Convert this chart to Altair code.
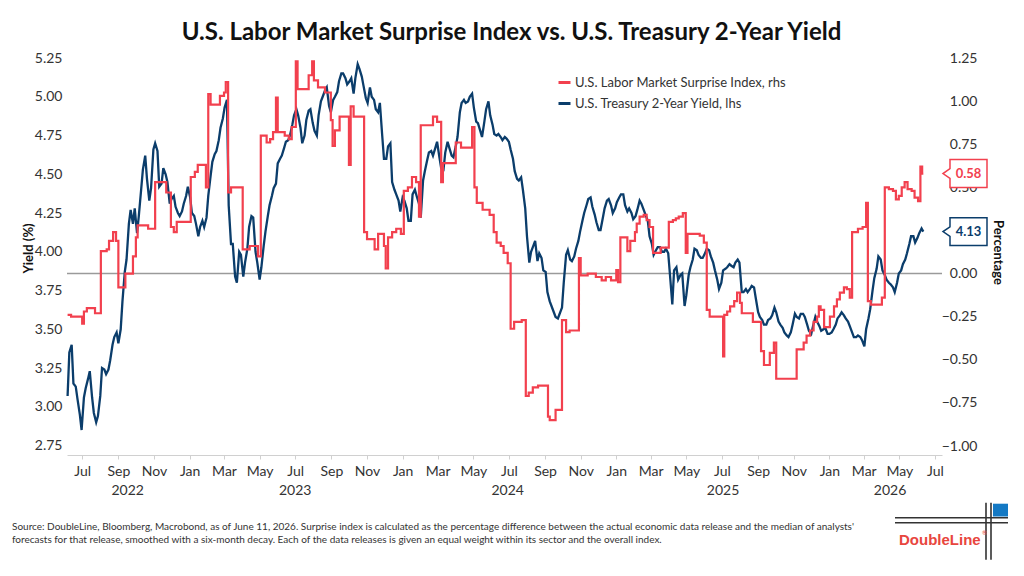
import altair as alt
import pandas as pd

# ---------------- data ----------------
# 2-year yield, two readings per week: Mondays (from 2022-06-06) and Thursdays (3 days later)
yield_start = "2022-06-06"
yield_monday = [
    3.07, 3.40, 3.13, 2.95, 3.06, 3.18, 3.06, 2.90, 3.07, 3.24,
    3.24, 3.40, 3.48, 3.50, 3.87, 4.18, 4.18, 4.12, 4.40, 4.62,
    4.33, 4.66, 4.65, 4.44, 4.50, 4.31, 4.36, 4.25, 4.26, 4.36,
    4.35, 4.23, 4.10, 4.20, 4.22, 4.49, 4.63, 4.72, 4.86, 4.98,
    4.05, 3.84, 4.00, 3.84, 4.02, 4.23, 4.00, 3.82, 4.04, 4.23,
    4.36, 4.44, 4.60, 4.67, 4.72, 4.82, 4.92, 4.80, 4.75, 4.91,
    4.83, 4.75, 4.97, 5.04, 4.94, 4.98, 5.03, 5.15, 5.12, 5.10,
    5.02, 5.21, 5.13, 4.99, 5.06, 4.98, 4.90, 4.75, 4.60, 4.70,
    4.40, 4.33, 4.35, 4.28, 4.20, 4.40, 4.31, 4.46, 4.59, 4.65,
    4.67, 4.61, 4.53, 4.71, 4.62, 4.68, 4.90, 4.98, 4.97, 5.02,
    4.84, 4.78, 4.84, 4.97, 4.82, 4.75, 4.74, 4.74, 4.71, 4.60,
    4.47, 4.48, 4.28, 3.93, 4.04, 3.94, 3.96, 3.87, 3.68, 3.61,
    3.57, 3.64, 3.98, 3.95, 3.97, 4.07, 4.20, 4.30, 4.35, 4.24,
    4.14, 4.22, 4.33, 4.30, 4.28, 4.35, 4.37, 4.26, 4.25, 4.23,
    4.33, 4.27, 4.20, 4.05, 4.01, 4.03, 4.00, 3.99, 3.66, 3.90,
    3.85, 3.65, 3.85, 3.95, 4.01, 3.96, 3.99, 4.01, 3.93, 3.82,
    3.80, 3.89, 3.92, 3.90, 3.95, 3.74, 3.76, 3.76, 3.77, 3.61,
    3.56, 3.53, 3.57, 3.64, 3.55, 3.51, 3.46, 3.48, 3.60, 3.57,
    3.60, 3.53, 3.47, 3.58, 3.52, 3.50, 3.47, 3.48, 3.53, 3.59,
    3.59, 3.55, 3.48, 3.45, 3.45, 3.39, 3.57, 3.75, 3.89, 3.95,
    3.85, 3.80, 3.77, 3.80, 3.88, 3.95, 4.05, 4.10, 4.09, 4.15,
]
yield_thursday = [
    3.35, 3.15, 3.05, 2.85, 3.12, 3.23, 2.96, 2.94, 3.25, 3.21,
    3.30, 3.45, 3.41, 3.68, 3.95, 4.27, 4.28, 4.23, 4.53, 4.47,
    4.41, 4.70, 4.42, 4.54, 4.45, 4.34, 4.29, 4.23, 4.31, 4.42,
    4.25, 4.18, 4.16, 4.16, 4.36, 4.58, 4.65, 4.80, 4.93, 4.30,
    4.05, 3.80, 3.98, 3.93, 4.16, 4.22, 3.93, 3.90, 4.13, 4.30,
    4.41, 4.57, 4.62, 4.71, 4.75, 4.88, 4.88, 4.70, 4.85, 4.92,
    4.78, 4.88, 5.00, 5.06, 4.90, 5.00, 5.10, 5.15, 5.08, 5.12,
    5.12, 5.18, 5.07, 4.96, 5.00, 4.92, 4.96, 4.60, 4.68, 4.45,
    4.37, 4.26, 4.33, 4.20, 4.37, 4.36, 4.22, 4.52, 4.64, 4.62,
    4.71, 4.54, 4.64, 4.67, 4.61, 4.74, 4.96, 4.96, 5.00, 4.93,
    4.83, 4.74, 4.92, 4.88, 4.76, 4.76, 4.72, 4.73, 4.66, 4.52,
    4.46, 4.40, 4.10, 4.00, 4.07, 3.99, 3.88, 3.74, 3.65, 3.58,
    3.60, 3.80, 4.01, 3.94, 4.02, 4.13, 4.25, 4.34, 4.29, 4.19,
    4.14, 4.28, 4.34, 4.25, 4.32, 4.37, 4.30, 4.28, 4.21, 4.27,
    4.31, 4.24, 4.10, 3.98, 4.03, 4.00, 4.02, 3.85, 3.88, 3.82,
    3.86, 3.72, 3.90, 4.02, 3.98, 3.96, 4.02, 3.97, 3.88, 3.76,
    3.88, 3.90, 3.91, 3.93, 3.93, 3.74, 3.74, 3.78, 3.70, 3.58,
    3.53, 3.56, 3.59, 3.61, 3.53, 3.48, 3.45, 3.53, 3.58, 3.60,
    3.58, 3.49, 3.52, 3.55, 3.49, 3.51, 3.47, 3.50, 3.57, 3.61,
    3.57, 3.52, 3.45, 3.46, 3.43, 3.50, 3.63, 3.83, 3.97, 3.88,
    3.82, 3.79, 3.74, 3.86, 3.92, 3.99, 4.10, 4.06, 4.12, 4.13,
]

surprise_dates = [
    "2022-06-06", "2022-06-12", "2022-07-01", "2022-07-04", "2022-07-09", "2022-07-23",
    "2022-08-02", "2022-08-12", "2022-08-16", "2022-08-23", "2022-08-28", "2022-09-01",
    "2022-09-13", "2022-09-26", "2022-10-01", "2022-10-04", "2022-10-22", "2022-11-03",
    "2022-11-22", "2022-11-30", "2022-12-05", "2022-12-10", "2023-01-03", "2023-01-10",
    "2023-01-15", "2023-01-29", "2023-02-02", "2023-02-06", "2023-02-22", "2023-03-01",
    "2023-03-04", "2023-03-08", "2023-03-13", "2023-04-02", "2023-04-14", "2023-04-28",
    "2023-05-03", "2023-05-13", "2023-05-19", "2023-05-24", "2023-05-29", "2023-06-01",
    "2023-06-13", "2023-06-20", "2023-06-25", "2023-07-02", "2023-07-05", "2023-07-24",
    "2023-07-30", "2023-08-02", "2023-08-09", "2023-08-21", "2023-08-31", "2023-09-03",
    "2023-09-07", "2023-09-15", "2023-10-01", "2023-10-04", "2023-10-09", "2023-10-27",
    "2023-11-01", "2023-11-14", "2023-11-20", "2023-11-30", "2023-12-03", "2023-12-07",
    "2023-12-14", "2023-12-21", "2023-12-29", "2024-01-03", "2024-01-10", "2024-01-17",
    "2024-01-24", "2024-01-29", "2024-02-01", "2024-02-22", "2024-02-29", "2024-03-07",
    "2024-03-10", "2024-04-01", "2024-04-10", "2024-04-29", "2024-05-03", "2024-05-07",
    "2024-05-17", "2024-05-29", "2024-06-05", "2024-06-10", "2024-06-17", "2024-06-22",
    "2024-06-29", "2024-07-04", "2024-07-10", "2024-07-23", "2024-07-30", "2024-08-04",
    "2024-08-11", "2024-08-20", "2024-09-06", "2024-09-09", "2024-09-19", "2024-09-30",
    "2024-10-07", "2024-10-13", "2024-10-29", "2024-11-01", "2024-11-13", "2024-11-27",
    "2024-12-07", "2024-12-14", "2024-12-23", "2025-01-01", "2025-01-04", "2025-01-08",
    "2025-01-20", "2025-01-25", "2025-02-02", "2025-02-05", "2025-02-10", "2025-02-17",
    "2025-02-22", "2025-02-27", "2025-03-05", "2025-03-18", "2025-04-01", "2025-04-08",
    "2025-04-13", "2025-04-18", "2025-04-25", "2025-04-30", "2025-05-03", "2025-05-24",
    "2025-05-31", "2025-06-05", "2025-06-10", "2025-07-03", "2025-07-05", "2025-07-10",
    "2025-07-15", "2025-07-22", "2025-07-27", "2025-08-01", "2025-08-04", "2025-08-23",
    "2025-09-06", "2025-09-11", "2025-09-21", "2025-09-28", "2025-10-02", "2025-11-06",
    "2025-11-18", "2025-11-23", "2025-11-29", "2025-12-05", "2025-12-11", "2025-12-14",
    "2025-12-17", "2025-12-23", "2026-01-02", "2026-01-09", "2026-01-14", "2026-01-19",
    "2026-01-26", "2026-01-31", "2026-02-05", "2026-02-09", "2026-02-19", "2026-02-27",
    "2026-03-05", "2026-03-08", "2026-03-13", "2026-04-01", "2026-04-06", "2026-04-13",
    "2026-04-20", "2026-04-25", "2026-04-30", "2026-05-05", "2026-05-10", "2026-05-15",
    "2026-05-22", "2026-05-27", "2026-06-02", "2026-06-06", "2026-06-09", "2026-06-11",
]
surprise_values = [
    -0.24, -0.25, -0.29, -0.22, -0.20, -0.23,
    0.13, 0.14, 0.19, 0.24, 0.19, -0.08,
    0.00, 0.10, 0.21, 0.28, 0.26, 0.53,
    0.47, 0.27, 0.24, 0.30, 0.56, 0.59,
    0.63, 0.50, 1.04, 0.98, 1.03, 1.05,
    1.11, 0.47, 0.50, 0.14, 0.16, 0.10,
    0.80, 0.76, 0.78, 0.82, 1.02, 0.82,
    0.80, 0.78, 0.85, 1.23, 1.07, 1.15,
    1.23, 1.12, 1.08, 1.05, 0.89, 0.74,
    0.83, 0.91, 0.63, 0.97, 0.91, 0.24,
    0.20, 0.14, 0.23, 0.16, 0.03, 0.21,
    0.24, 0.26, 0.23, 0.48, 0.50, 0.56,
    0.53, 0.33, 0.86, 0.91, 0.88, 0.53,
    0.64, 0.76, 0.73, 0.85, 0.50, 0.41,
    0.37, 0.34, 0.24, 0.18, 0.16, 0.12,
    0.06, -0.32, -0.28, -0.27, -0.71, -0.69,
    -0.66, -0.65, -0.83, -0.85, -0.79, -0.27,
    -0.34, -0.33, 0.09, -0.01, 0.00, -0.02,
    -0.04, -0.02, -0.04, 0.02, -0.05, 0.21,
    0.13, 0.19, 0.24, 0.29, 0.33, 0.34,
    0.31, 0.27, 0.12, 0.15, 0.30, 0.31,
    0.32, 0.33, 0.35, 0.12, 0.23, 0.22,
    0.18, -0.21, -0.25, -0.48, -0.24, -0.22,
    -0.19, -0.16, -0.11, -0.17, -0.23, -0.28,
    -0.45, -0.53, -0.46, -0.40, -0.61, -0.44,
    -0.40, -0.36, -0.33, -0.28, -0.25, -0.19,
    -0.21, -0.31, -0.25, -0.19, -0.15, -0.11,
    -0.08, -0.09, -0.14, 0.24, 0.26, 0.27,
    0.41, -0.16, -0.18, -0.14, 0.50, 0.49,
    0.48, 0.43, 0.45, 0.50, 0.53, 0.49,
    0.48, 0.44, 0.42, 0.62, 0.58, 0.58,
]

series_names = ["U.S. Labor Market Surprise Index, rhs", "U.S. Treasury 2-Year Yield, lhs"]
series_colors = ["#F2404E", "#0B3D6B"]

left_ticks = [2.75, 3.00, 3.25, 3.50, 3.75, 4.00, 4.25, 4.50, 4.75, 5.00, 5.25]
right_ticks = [-1.00, -0.75, -0.50, -0.25, 0.00, 0.25, 0.50, 0.75, 1.00, 1.25]
month_ticks = [
    "2022-07", "2022-09", "2022-11", "2023-01", "2023-03", "2023-05", "2023-07",
    "2023-09", "2023-11", "2024-01", "2024-03", "2024-05", "2024-07", "2024-09",
    "2024-11", "2025-01", "2025-03", "2025-05", "2025-07", "2025-09", "2025-11",
    "2026-01", "2026-03", "2026-05", "2026-07",
]
year_names = ["2022", "2023", "2024", "2025", "2026"]
year_dates = ["2022-09-17", "2023-07-01", "2024-06-29", "2025-07-03", "2026-04-15"]

title_text = "U.S. Labor Market Surprise Index vs. U.S. Treasury 2-Year Yield"
footnote_lines = [
    "Source: DoubleLine, Bloomberg, Macrobond, as of June 11, 2026. Surprise index is calculated as the percentage difference between the actual economic data release and the median of analysts'",
    "forecasts for that release, smoothed with a six-month decay. Each of the data releases is given an equal weight within its sector and the overall index.",
]

# ---------------- tables ----------------
mondays = pd.date_range(yield_start, periods=len(yield_monday), freq="7D")
thursdays = mondays + pd.Timedelta(days=3)
df_yield = pd.concat([
    pd.DataFrame({"date": mondays, "value": yield_monday}),
    pd.DataFrame({"date": thursdays, "value": yield_thursday}),
]).sort_values("date")
df_yield["date"] = df_yield["date"].dt.strftime("%Y-%m-%d")
df_yield["series"] = series_names[1]
df_surp = pd.DataFrame({"date": surprise_dates, "value": surprise_values, "series": series_names[0]})
df_yield_last = df_yield.tail(1)
df_surp_last = df_surp.tail(1)
df_zero = pd.DataFrame({"v": [0.0]})
df_years = pd.DataFrame({"date": year_dates, "label": year_names})
one = pd.DataFrame({"a": [0]})

FONT = "Lato"
W, H = 875, 397

x_scale = alt.Scale(type="utc", domain=[alt.DateTime(year=2022, month=6, date=5, utc=True),
                                        alt.DateTime(year=2026, month=7, date=13, utc=True)])
x_axis = alt.Axis(
    values=[alt.DateTime(year=int(m[:4]), month=int(m[5:7]), date=1, utc=True) for m in month_ticks],
    labelExpr="utcFormat(datum.value, '%b')", labelFont=FONT, labelFontSize=14, labelColor="#333333",
    tickSize=4, tickColor="#d0d0d0", domainColor="#d0d0d0", labelPadding=5, grid=False,
    labelFlush=False, labelOverlap=False, title=None)
X = alt.X("date:T", scale=x_scale, axis=x_axis)

left_scale = alt.Scale(domain=[2.689, 5.25], nice=False, zero=False)
right_scale = alt.Scale(domain=[-1.052, 1.25], nice=False, zero=False)

left_axis = alt.Axis(orient="left", values=left_ticks, format=".2f", domain=False, ticks=False, tickSize=0,
                     grid=False, labelFont=FONT, labelFontSize=14, labelColor="#333333", labelPadding=5,
                     title="Yield (%)", titleFont=FONT, titleFontSize=13, titleFontWeight="bold",
                     titleColor="#111111", titleAngle=-90, titleX=-39, titleY=190,
                     titleAlign="center", titleBaseline="middle")
right_axis = alt.Axis(orient="right", values=right_ticks, format=".2f", domain=False, ticks=False, tickSize=0,
                      grid=False, labelFont=FONT, labelFontSize=14, labelColor="#333333", labelAlign="right",
                      labelPadding=35, title="Percentage", titleFont=FONT, titleFontSize=13,
                      titleFontWeight="bold", titleColor="#111111", titleAngle=90, titleX=55, titleY=194,
                      titleAlign="center", titleBaseline="middle")

legend = alt.Legend(orient="none", legendX=490, legendY=17, title=None, symbolType="stroke",
                    symbolSize=144, symbolStrokeWidth=3, labelFont=FONT, labelFontSize=13,
                    labelColor="#333333", labelOffset=3, rowPadding=6, padding=0, labelLimit=500)
color = alt.Color("series:N", scale=alt.Scale(domain=series_names, range=series_colors), legend=legend)

callout = "M -0.682 -0.636 L 1 -0.636 L 1 0.636 L -0.682 0.636 L -0.682 0.22 L -1 0 L -0.682 -0.22 Z"

zero_rule = alt.Chart(df_zero).mark_rule(color="#9a9a9a", strokeWidth=1.5).encode(
    y=alt.Y("v:Q", scale=right_scale, axis=None))

blue_line = alt.Chart(df_yield).mark_line(strokeWidth=2.3).encode(
    x=X, y=alt.Y("value:Q", scale=left_scale, axis=left_axis), color=color)

red_line = alt.Chart(df_surp).mark_line(strokeWidth=2.2, interpolate="step-after").encode(
    x=X, y=alt.Y("value:Q", scale=right_scale, axis=right_axis), color=color)

blue_box = alt.Chart(df_yield_last).mark_point(shape=callout, size=1936, filled=True, fill="white",
                                               stroke=series_colors[1], strokeWidth=1.5, opacity=1).encode(
    x=alt.value(898), y=alt.Y("value:Q", scale=left_scale, axis=None))
blue_txt = alt.Chart(df_yield_last).mark_text(font=FONT, fontSize=13, fontWeight="bold",
                                              color=series_colors[1], align="center", baseline="middle").encode(
    x=alt.value(901.5), y=alt.Y("value:Q", scale=left_scale, axis=None), text=alt.Text("value:Q", format=".2f"))
red_box = alt.Chart(df_surp_last).mark_point(shape=callout, size=1936, filled=True, fill="white",
                                             stroke=series_colors[0], strokeWidth=1.5, opacity=1).encode(
    x=alt.value(898), y=alt.Y("value:Q", scale=right_scale, axis=None))
red_txt = alt.Chart(df_surp_last).mark_text(font=FONT, fontSize=13, fontWeight="bold",
                                            color=series_colors[0], align="center", baseline="middle").encode(
    x=alt.value(901.5), y=alt.Y("value:Q", scale=right_scale, axis=None), text=alt.Text("value:Q", format=".2f"))

years = alt.Chart(df_years).mark_text(font=FONT, fontSize=14, color="#333333", align="center",
                                      baseline="middle").encode(x=X, y=alt.value(433.4), text="label:N")

title = alt.Chart(one).mark_text(font=FONT, fontSize=24, fontWeight="bold", color="#111111",
                                 align="center", baseline="alphabetic").encode(
    x=alt.value(444.5), y=alt.value(-18), text=alt.value(title_text))

foot = alt.Chart(one).mark_text(font=FONT, fontSize=10, color="#333333", align="left", baseline="middle",
                                lineHeight=13).encode(
    x=alt.value(-55), y=alt.value(468.7), text=alt.value(footnote_lines))

logo_parts = []
for yv in (459.7, 464.7):
    logo_parts.append(alt.Chart(one).mark_rule(color="#333333", strokeWidth=1.6).encode(
        x=alt.value(828), x2=alt.value(941), y=alt.value(yv)))
for xv in (919, 924):
    logo_parts.append(alt.Chart(one).mark_rule(color="#333333", strokeWidth=1.6).encode(
        x=alt.value(xv), y=alt.value(444.7), y2=alt.value(501.7)))
logo_parts.append(alt.Chart(one).mark_rect(color="#1479C4").encode(
    x=alt.value(926), x2=alt.value(941), y=alt.value(445.7), y2=alt.value(458.5)))
logo_parts.append(alt.Chart(one).mark_text(font="Liberation Sans", fontSize=15, fontWeight="bold",
                                           color="#E8463E", align="left", baseline="alphabetic").encode(
    x=alt.value(832), y=alt.value(486.7), text=alt.value("DoubleLine")))
logo_parts.append(alt.Chart(one).mark_text(font=FONT, fontSize=6, color="#E8463E", align="left",
                                           baseline="middle").encode(
    x=alt.value(915), y=alt.value(475), text=alt.value("®")))

chart = alt.layer(
    zero_rule, blue_line, red_line, blue_box, blue_txt, red_box, red_txt, years, title, foot, *logo_parts
).resolve_scale(y="independent").properties(
    width=W, height=H,
    autosize=alt.AutoSizeParams(type="none"),
    padding={"left": 67, "top": 58, "right": 82, "bottom": 121},
    background="white",
).configure_view(stroke=None)

chart.save("out.html", embed_options={"renderer": "svg", "actions": False})
